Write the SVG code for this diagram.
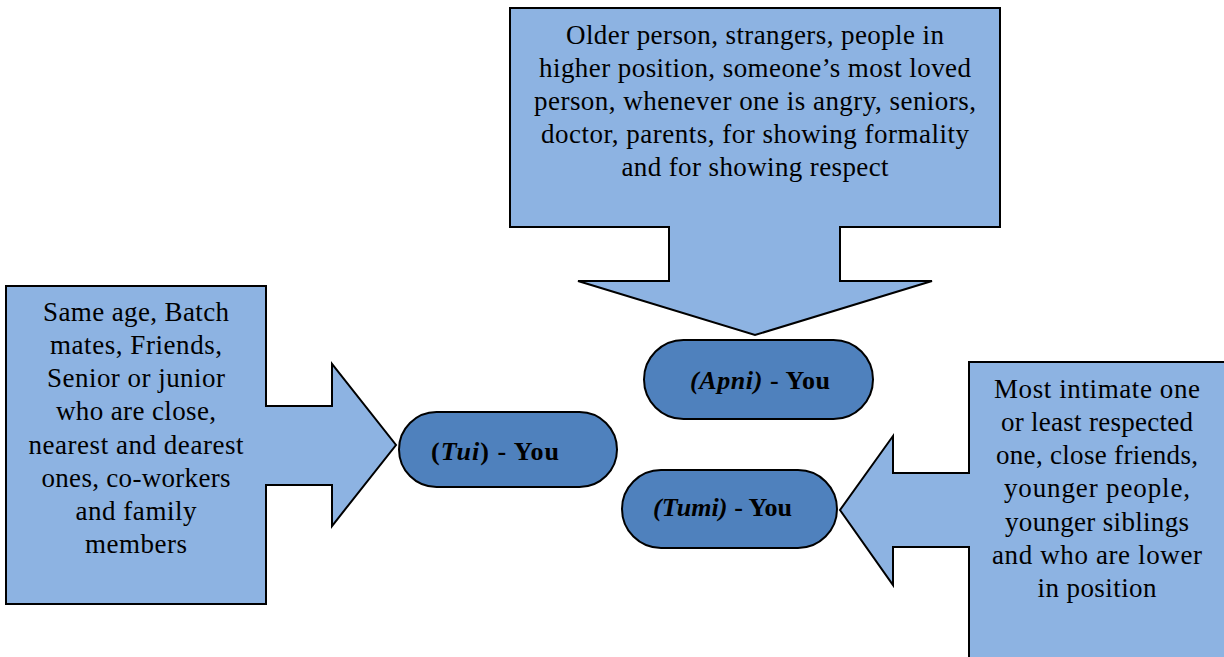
<svg xmlns="http://www.w3.org/2000/svg" width="1224" height="657" viewBox="0 0 1224 657">
<style>
.call{fill:#8DB3E2;stroke:#000;stroke-width:2;stroke-linejoin:miter}
.pill{fill:#4F81BD;stroke:#000;stroke-width:2}
.t{font-family:"Liberation Serif",serif;font-size:27px;fill:#000;text-anchor:middle}
.p{font-family:"Liberation Serif",serif;font-size:26px;font-weight:bold;fill:#000;text-anchor:middle}
</style>
<rect width="1224" height="657" fill="#fff"/>
<g id="callout-top">
<path class="call" d="M510,8 H1000 V227 H840 V281 H932 L755,335 L578,281 H669 V227 H510 Z"/>
<text class="t"><tspan x="755" y="44" textLength="378" lengthAdjust="spacing">Older person, strangers, people in</tspan><tspan x="755" y="77" textLength="432" lengthAdjust="spacing">higher position, someone’s most loved</tspan><tspan x="755" y="110" textLength="442" lengthAdjust="spacing">person, whenever one is angry, seniors,</tspan><tspan x="755" y="143" textLength="428" lengthAdjust="spacing">doctor, parents, for showing formality</tspan><tspan x="755" y="176" textLength="267" lengthAdjust="spacing">and for showing respect</tspan></text>
</g>
<g id="callout-left">
<path class="call" d="M6,286 H266 V406 H332 V364 L396,445 L332,526 V485 H266 V604 H6 Z"/>
<text class="t"><tspan x="136" y="321" textLength="186" lengthAdjust="spacing">Same age, Batch</tspan><tspan x="136" y="354" textLength="172" lengthAdjust="spacing">mates, Friends,</tspan><tspan x="136" y="387" textLength="178" lengthAdjust="spacing">Senior or junior</tspan><tspan x="136" y="420" textLength="160" lengthAdjust="spacing">who are close,</tspan><tspan x="136" y="454" textLength="215" lengthAdjust="spacing">nearest and dearest</tspan><tspan x="136" y="487" textLength="189" lengthAdjust="spacing">ones, co-workers</tspan><tspan x="136" y="520" textLength="121" lengthAdjust="spacing">and family</tspan><tspan x="136" y="553" textLength="102" lengthAdjust="spacing">members</tspan></text>
</g>
<g id="callout-right">
<path class="call" d="M969,362 H1230 V665 H969 V547 H893 V585 L840,510 L893,436 V473 H969 Z"/>
<text class="t"><tspan x="1097" y="398" textLength="206" lengthAdjust="spacing">Most intimate one</tspan><tspan x="1097" y="431" textLength="192" lengthAdjust="spacing">or least respected</tspan><tspan x="1097" y="464" textLength="202" lengthAdjust="spacing">one, close friends,</tspan><tspan x="1097" y="497" textLength="186" lengthAdjust="spacing">younger people,</tspan><tspan x="1097" y="531" textLength="184" lengthAdjust="spacing">younger siblings</tspan><tspan x="1097" y="564" textLength="210" lengthAdjust="spacing">and who are lower</tspan><tspan x="1097" y="597" textLength="119" lengthAdjust="spacing">in position</tspan></text>
</g>
<g id="node-apni">
<rect class="pill" x="644" y="340" width="229" height="79" rx="39.5"/>
<text class="p" x="760" y="389" textLength="140" lengthAdjust="spacing"><tspan font-style="italic">(Apni)</tspan> - You</text>
</g>
<g id="node-tui">
<rect class="pill" x="399" y="412" width="218" height="75" rx="37.5"/>
<text class="p" x="495" y="460" textLength="128" lengthAdjust="spacing">(<tspan font-style="italic">Tui</tspan>) - You</text>
</g>
<g id="node-tumi">
<rect class="pill" x="622" y="470" width="215" height="78" rx="39"/>
<text class="p" x="722.5" y="516" textLength="139" lengthAdjust="spacing"><tspan font-style="italic">(Tumi)</tspan>  - You</text>
</g>
<g id="connectors"></g>
</svg>
